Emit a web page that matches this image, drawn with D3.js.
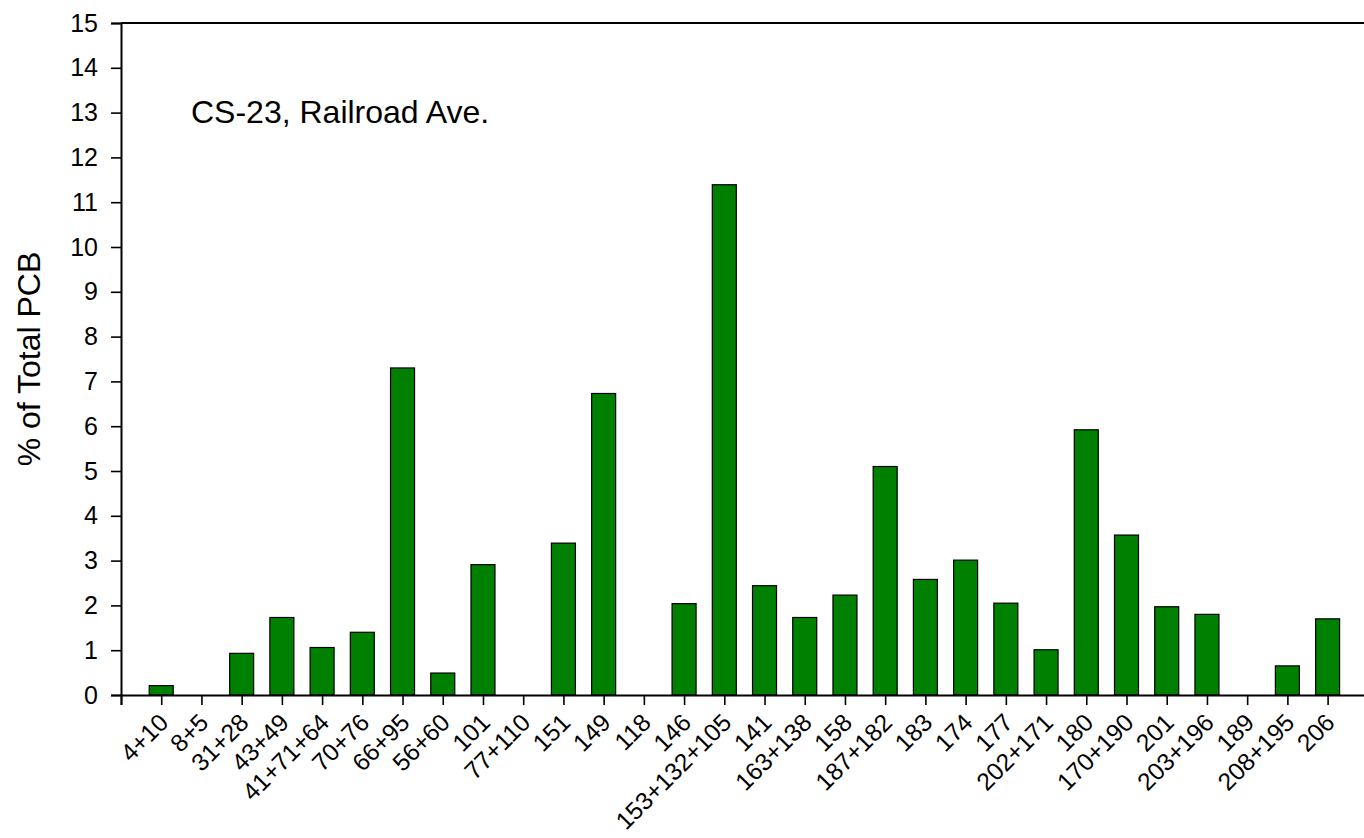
<!DOCTYPE html>
<html>
<head>
<meta charset="utf-8">
<script src="https://cdn.jsdelivr.net/npm/d3@7"></script>
<style>
  html, body { margin: 0; padding: 0; background: #fff; }
  svg { display: block; }
  text { font-family: "Liberation Sans", Arial, sans-serif; fill: #000; }
</style>
</head>
<body>
<svg id="chart" width="1364" height="838"></svg>
<script>
// PCB congener groups along the x axis
const congeners = ["4+10", "8+5", "31+28", "43+49", "41+71+64", "70+76", "66+95", "56+60",
  "101", "77+110", "151", "149", "118", "146", "153+132+105", "141", "163+138", "158",
  "187+182", "183", "174", "177", "202+171", "180", "170+190", "201", "203+196", "189",
  "208+195", "206"];

// Percent of total PCB for each congener group
const percentTotal = [0.21, 0, 0.93, 1.73, 1.06, 1.40, 7.30, 0.49,
  2.91, 0, 3.39, 6.73, 0, 2.04, 11.39, 2.44, 1.73, 2.23,
  5.10, 2.58, 3.01, 2.05, 1.01, 5.92, 3.57, 1.97, 1.80, 0,
  0.65, 1.70];

const yTicks = d3.range(0, 16);
const sampleLabel = "CS-23, Railroad Ave.";
const yTitle = "% of Total PCB";

const svg = d3.select("#chart");
const plotLeft = 121, plotTop = 23, plotBottom = 695, step = 40.22;

// Categories sit at integer positions 1..30 on a 0..31 axis
const x = d3.scaleLinear().domain([0, congeners.length + 1])
  .range([plotLeft, plotLeft + (congeners.length + 1) * step]);
const y = d3.scaleLinear().domain([0, 15]).range([plotBottom, plotTop]);
const plotRight = x(congeners.length + 1);
const barW = 24;

// Bars
svg.append("g").selectAll("rect")
  .data(percentTotal.map((v, i) => ({ v, i })).filter(d => d.v > 0))
  .join("rect")
  .attr("x", d => x(d.i + 1) - barW / 2)
  .attr("y", d => y(d.v))
  .attr("width", barW)
  .attr("height", d => y(0) - y(d.v))
  .attr("fill", "#008000")
  .attr("stroke", "#000")
  .attr("stroke-width", 1.2);

// Left axis
const gL = svg.append("g").attr("transform", `translate(${plotLeft},0)`)
  .call(d3.axisLeft(y).tickValues(yTicks).tickSize(10).tickPadding(13).tickFormat(d3.format("d")));
gL.selectAll("text").style("font-size", "25px");

// Right axis (ticks pointing inward)
const gR = svg.append("g").attr("transform", `translate(${plotRight},0)`)
  .call(d3.axisLeft(y).tickValues(yTicks).tickSize(-10).tickFormat(""));
gR.selectAll("text").remove();

// Top frame line
svg.append("line").attr("x1", plotLeft).attr("x2", plotRight)
  .attr("y1", plotTop).attr("y2", plotTop)
  .attr("stroke", "#000").attr("stroke-width", 2);

// Bottom axis
const gB = svg.append("g").attr("transform", `translate(0,${plotBottom})`)
  .call(d3.axisBottom(x).tickValues(d3.range(0, congeners.length + 2)).tickSize(10)
    .tickFormat(d => (d >= 1 && d <= congeners.length) ? congeners[d - 1] : ""));
gB.selectAll("text")
  .style("font-size", "24.5px")
  .attr("text-anchor", "end")
  .attr("dy", "0.35em")
  .attr("x", 0).attr("y", 0)
  .attr("transform", "translate(2,23) rotate(-45)");

svg.selectAll(".domain").attr("stroke-width", 2);
svg.selectAll(".tick line").attr("stroke-width", 1.6);

// Sample annotation
svg.append("text").attr("x", 191).attr("y", 123)
  .style("font-size", "32px").text(sampleLabel);

// Y axis title
svg.append("text")
  .attr("transform", `translate(40,${(plotTop + plotBottom) / 2}) rotate(-90)`)
  .attr("text-anchor", "middle")
  .style("font-size", "32px").text(yTitle);
</script>
</body>
</html>
